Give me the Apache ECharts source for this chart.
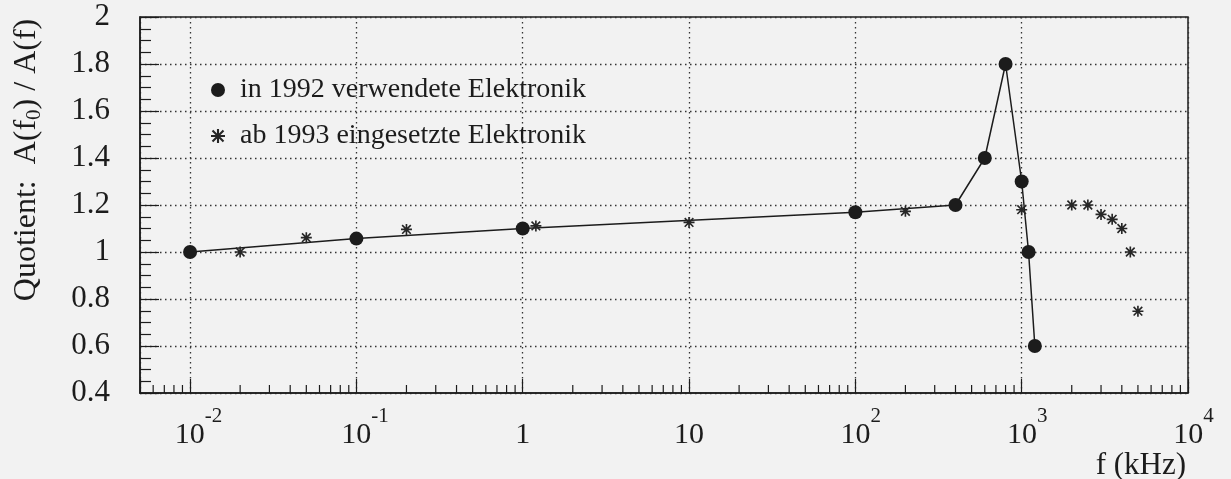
<!DOCTYPE html>
<html><head><meta charset="utf-8">
<script src="https://cdn.jsdelivr.net/npm/echarts@6/dist/echarts.min.js"></script>
<style>html,body{margin:0;padding:0;background:#f2f2f2}#c{width:1231px;height:479px}</style>
</head><body><div id="c"></div>
<script>
// ---- data ----
const freq1992 = [0.01, 0.1, 1, 100, 400, 600, 800, 1000, 1100, 1200];
const quot1992 = [1.0, 1.057, 1.10, 1.169, 1.2, 1.4, 1.8, 1.3, 1.0, 0.6];
const freq1993 = [0.02, 0.05, 0.2, 1.2, 10, 200, 1000, 2000, 2500, 3000, 3500, 4000, 4500, 5000];
const quot1993 = [1.0, 1.061, 1.096, 1.111, 1.126, 1.173, 1.18, 1.2, 1.2, 1.16, 1.139, 1.10, 1.0, 0.748];
const seriesNames = ['in 1992 verwendete Elektronik', 'ab 1993 eingesetzte Elektronik'];
const xAxisName = 'f (kHz)';
const yAxisName = 'Quotient:  A(f{sub|0}) / A(f)';
const xRange = [0.005, 10000];
const yRange = [0.4, 2.0];

// ---- styling ----
const FONT = 'Liberation Serif';
const INK = '#1c1c1c';
const ASTER = 'path://M0 8.5 L20 8.5 L20 11.5 L0 11.5 Z M8.5 0 L11.5 0 L11.5 20 L8.5 20 Z M3.2 1.1 L18.9 16.8 L16.8 18.9 L1.1 3.2 Z M16.8 1.1 L18.9 3.2 L3.2 18.9 L1.1 16.8 Z';

// minor tick positions of the log axis (2..9 x 10^k inside the range)
const minorX = [];
for (let e = -3; e <= 3; e++) {
  for (let m = 2; m <= 9; m++) {
    const v = m * Math.pow(10, e);
    if (v > xRange[0] * 1.0001 && v < xRange[1]) minorX.push([v, yRange[0]]);
  }
}

const chart = echarts.init(document.getElementById('c'));
const dotted = { color: '#333', width: 1.3, type: [1.5, 3.5] };

chart.setOption({
  backgroundColor: '#f2f2f2',
  animation: false,
  textStyle: { fontFamily: FONT, color: INK },
  grid: { left: 140, right: 43, top: 17, bottom: 86, show: true, borderColor: INK, borderWidth: 1.5, backgroundColor: 'transparent' },
  legend: {
    orient: 'vertical', left: 206, top: 71, itemGap: 18, itemWidth: 14, itemHeight: 14,
    textStyle: { fontFamily: FONT, fontSize: 28, color: INK, padding: [0, 0, 0, 10] },
    data: [ { name: seriesNames[0], icon: 'circle' }, { name: seriesNames[1], icon: ASTER } ]
  },
  xAxis: {
    type: 'log', logBase: 10, min: xRange[0], max: xRange[1], splitNumber: 10,
    axisLine: { lineStyle: { color: INK, width: 1.5 } },
    axisTick: { inside: true, length: 14, lineStyle: { color: INK, width: 1.2 } },
    splitLine: { show: true, lineStyle: dotted },
    axisLabel: {
      margin: 13, color: INK, fontFamily: FONT,
      formatter: function (v) {
        const lg = Math.log10(v); const e = Math.round(lg);
        if (Math.abs(lg - e) > 1e-6) return '';
        if (e === 0) return '{b|1}';
        if (e === 1) return '{b|10}';
        return '{' + (e < 0 ? 'pn' : 'pp') + '| }{b|10}{s|' + e + '}';
      },
      rich: {
        b: { fontSize: 30, lineHeight: 59, fontFamily: FONT, color: INK },
        s: { fontSize: 21, lineHeight: 21, padding: [0, 0, 38, 0], fontFamily: FONT, color: INK },
        pn: { width: 17, fontSize: 21 },
        pp: { width: 11, fontSize: 21 }
      }
    }
  },
  yAxis: {
    type: 'value', min: yRange[0], max: yRange[1], interval: 0.2,
    axisLine: { lineStyle: { color: INK, width: 1.5 } },
    axisTick: { inside: true, length: 19, lineStyle: { color: INK, width: 1.2 } },
    minorTick: { show: true, splitNumber: 4, length: 11, lineStyle: { color: INK, width: 1.2 } },
    splitLine: { show: true, lineStyle: dotted },
    axisLabel: { margin: 30, fontSize: 31, color: INK, fontFamily: FONT }
  },
  series: [
    {
      name: seriesNames[0], type: 'line',
      data: freq1992.map((f, i) => [f, quot1992[i]]),
      symbol: 'circle', symbolSize: 14, showAllSymbol: true,
      lineStyle: { color: INK, width: 1.5 },
      itemStyle: { color: INK },
      z: 5
    },
    {
      name: seriesNames[1], type: 'scatter',
      data: freq1993.map((f, i) => [f, quot1993[i]]),
      symbol: ASTER, symbolSize: 11,
      itemStyle: { color: '#262626', opacity: 1 },
      z: 6
    },
    {
      name: 'minorTicks', type: 'custom', silent: true, clip: false,
      data: minorX,
      renderItem: function (params, api) {
        const p = api.coord([api.value(0), api.value(1)]);
        return { type: 'line', shape: { x1: p[0], y1: p[1], x2: p[0], y2: p[1] - 8 }, style: { stroke: INK, lineWidth: 1.2 } };
      },
      z: 4
    }
  ],
  graphic: [
    {
      type: 'text', x: 27, y: 160, rotation: Math.PI / 2,
      style: {
        text: yAxisName, fontFamily: FONT, fontSize: 32, fill: INK, align: 'center', verticalAlign: 'middle',
        rich: { sub: { fontSize: 21, fontFamily: FONT, fill: INK, padding: [14, 0, 0, 0] } }
      }
    },
    {
      type: 'text', x: 1186, y: 466,
      style: { text: xAxisName, fontFamily: FONT, fontSize: 31, fill: INK, align: 'right', verticalAlign: 'middle' }
    }
  ]
});
</script>
</body></html>
